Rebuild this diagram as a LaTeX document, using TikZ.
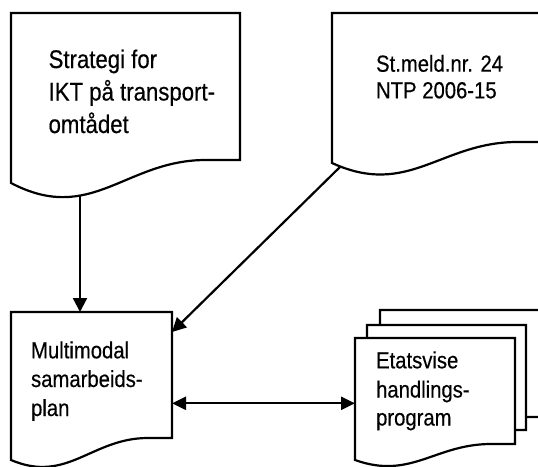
\documentclass[tikz,border=0pt]{standalone}
\usepackage{fontspec}
\setmainfont{Liberation Sans}[FakeStretch=0.87,FakeBold=0.4]
\usetikzlibrary{arrows.meta}
% #1 left x, #2 top y, #3 width, #4 left-bottom y, #5 right-bottom y, #6 wave depth control
\newcommand\drawdoc[6]{%
  \draw[docbox] (#1,#2) -- ({#1+#3},#2) -- ({#1+#3},#5) -- ({#1+0.85*#3},#5)
    .. controls ({#1+0.5*#3},#5) and ({#1+0.35*#3},{#4+#6}) .. (#1,#4) -- cycle;}
\begin{document}
\begin{tikzpicture}[x=1pt,y=-1pt,line width=2.2pt,
  docbox/.style={draw=black,fill=white,line join=miter},
  arr/.style={-{Triangle[length=14pt,width=14pt]}},
  darr/.style={{Triangle[length=14pt,width=13pt]}-{Triangle[length=14pt,width=13pt]}},
  txtA/.style={anchor=base west,inner sep=0pt,font=\fontsize{25.5}{32}\selectfont},
  txtB/.style={anchor=base west,inner sep=0pt,font=\fontsize{23.3}{29}\selectfont}]
\useasboundingbox (0,0) rectangle (538,466);
\clip (0,0) rectangle (538,466);
\fill[white] (0,0) rectangle (538,466);

% documents
\drawdoc{11}{13}{229}{183}{160}{42}
\drawdoc{332}{13}{218}{163}{142}{35}
\drawdoc{11}{312}{161}{460}{438}{24}
\drawdoc{380}{310}{160}{432}{417}{20}
\drawdoc{367}{325}{159}{447}{430}{20}
\drawdoc{355}{338}{160}{460}{444}{20}

% texts
\node[txtA] (s1) at (47.5,68)  {Strategi for};
\node[txtA] (s2) at (47.5,100.5) {IKT på transport-};
\node[txtA] (s3) at (47.5,133) {omtådet};
\node[txtB] (n1) at (375,71.7) {St.meld.nr. 24};
\node[txtB] (n2) at (375,98.3) {NTP 2006-15};
\node[txtB] (m1) at (30,358.3) {Multimodal};
\node[txtB] (m2) at (30,387) {samarbeids-};
\node[txtB] (m3) at (30,416) {plan};
\node[txtB] (e1) at (375,368.3) {Etatsvise};
\node[txtB] (e2) at (375,397.5) {handlings-};
\node[txtB] (e3) at (375,425.5) {program};

% connector end points
\coordinate (stratOut) at (80,196);
\coordinate (multiTop) at (80,312);
\coordinate (ntpOut) at (340,167);
\coordinate (multiRightA) at (172,332);
\coordinate (multiRightB) at (172,403.3);
\coordinate (etatLeft) at (355,403.3);

\draw[arr] (stratOut) -- (multiTop);
\draw[arr] (ntpOut) -- (multiRightA);
\draw[darr] (multiRightB) -- (etatLeft);
\end{tikzpicture}
\end{document}
